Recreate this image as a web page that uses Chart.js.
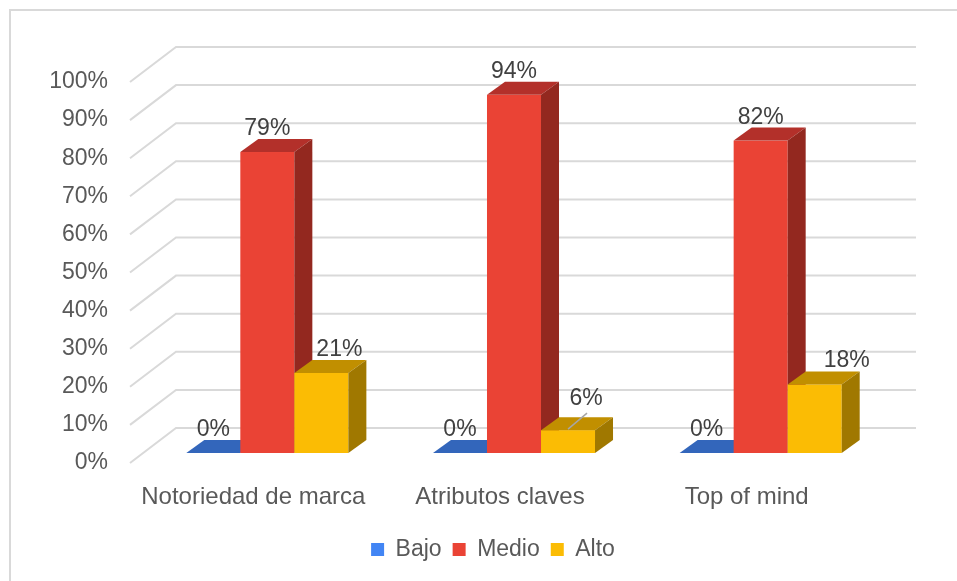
<!DOCTYPE html>
<html>
<head>
<meta charset="utf-8">
<script src="https://cdn.jsdelivr.net/npm/chart.js@4.4.1/dist/chart.umd.min.js"></script>
<style>
  html, body { margin: 0; padding: 0; background: #fff; overflow: hidden; }
  #wrap { position: relative; width: 957px; height: 581px; }
  #frame { position: absolute; left: 9px; top: 9px; width: 1200px; height: 900px;
           border: 2px solid #d9d9d9; box-sizing: border-box; }
  canvas { position: absolute; left: 0; top: 0; }
</style>
</head>
<body>
<div id="wrap"><div id="frame"></div><canvas id="chart" width="957" height="581"></canvas></div>
<script>
const categories = ['Notoriedad de marca', 'Atributos claves', 'Top of mind'];
const bajo = [0, 0, 0];
const medio = [79, 94, 82];
const alto = [21, 6, 18];
const yTicks = [0, 10, 20, 30, 40, 50, 60, 70, 80, 90, 100];

const FONT = '"Liberation Sans", Arial, sans-serif';

function poly(ctx, pts, color) {
  ctx.beginPath();
  ctx.moveTo(pts[0][0], pts[0][1]);
  for (let k = 1; k < pts.length; k++) ctx.lineTo(pts[k][0], pts[k][1]);
  ctx.closePath();
  ctx.fillStyle = color;
  ctx.fill();
}

// fake 3D: back wall grid, boxes drawn category by category, then labels
const depth3d = {
  id: 'depth3d',
  afterLayout(chart, args, opts) {
    // legend sits centred under the whole frame, not the padded area
    chart.legend.left += opts.legendShift;
    chart.legend.right += opts.legendShift;
  },
  beforeDatasetsDraw(chart, args, opts) {
    const { ctx, chartArea: a, scales: { y } } = chart;
    const [wx, wy] = opts.wall, [fx, fy] = opts.front, [dx, dy] = opts.box;
    ctx.save();
    ctx.strokeStyle = '#d9d9d9';
    ctx.lineWidth = 2;
    yTicks.forEach(t => {
      const py = y.getPixelForValue(t);
      ctx.beginPath();
      ctx.moveTo(a.left, py);
      ctx.lineTo(a.left + wx, py + wy);
      ctx.lineTo(a.right + wx, py + wy);
      ctx.stroke();
    });
    for (let j = 0; j < categories.length; j++) {
      chart.data.datasets.forEach((ds, i) => {
        const bar = chart.getDatasetMeta(i).data[j];
        const l = bar.x - bar.width / 2 + fx, r = bar.x + bar.width / 2 + fx;
        const t = bar.y + fy, b = bar.base + fy;
        ctx.fillStyle = ds.backgroundColor;
        ctx.fillRect(l, t, r - l, b - t);
        poly(ctx, [[l, t], [r, t], [r + dx, t + dy], [l + dx, t + dy]], ds.topColor);
        poly(ctx, [[r, t], [r + dx, t + dy], [r + dx, b + dy], [r, b]], ds.sideColor);
      });
    }
    ctx.restore();
    return false;
  },
  afterDraw(chart, args, opts) {
    const { ctx } = chart;
    const [fx, fy] = opts.front, [dx, dy] = opts.box;
    ctx.save();
    ctx.font = '23px ' + FONT;
    ctx.textAlign = 'center';
    ctx.textBaseline = 'alphabetic';
    chart.data.datasets.forEach((ds, i) => {
      chart.getDatasetMeta(i).data.forEach((bar, j) => {
        const sh = opts.shift[i + '-' + j] || [0, 0];
        const bx = bar.x + fx;
        const lx = bx + sh[0], ly = bar.y + fy + dy - 4 + sh[1];
        if (sh[2]) {
          ctx.strokeStyle = '#a6a6a6';
          ctx.lineWidth = 1.5;
          ctx.beginPath();
          ctx.moveTo(bx, bar.y + fy - 1);
          ctx.lineTo(lx + 1, ly + 8);
          ctx.stroke();
        }
        ctx.fillStyle = '#404040';
        ctx.fillText(ds.data[j] + '%', lx, ly);
      });
    });
    ctx.restore();
  }
};

new Chart(document.getElementById('chart'), {
  type: 'bar',
  data: {
    labels: categories,
    datasets: [
      { label: 'Bajo', data: bajo, backgroundColor: '#4285f4', topColor: '#3366bb', sideColor: '#2a55a0' },
      { label: 'Medio', data: medio, backgroundColor: '#ea4335', topColor: '#b3302a', sideColor: '#93281f' },
      { label: 'Alto', data: alto, backgroundColor: '#fbbc04', topColor: '#c18f00', sideColor: '#a07800' }
    ]
  },
  options: {
    responsive: false,
    animation: false,
    categoryPercentage: 0.657,
    barPercentage: 1,
    layout: { padding: { left: 10, right: 87, top: 82, bottom: 10 } },
    scales: {
      x: {
        grid: { display: false, drawTicks: false },
        border: { display: false },
        ticks: { color: '#595959', font: { family: FONT, size: 24 }, padding: 20, maxRotation: 0 },
        afterFit: s => { s.height = 64; }
      },
      y: {
        min: 0, max: 100,
        grid: { display: false, drawTicks: false },
        border: { display: false },
        ticks: { stepSize: 10, color: '#595959', font: { family: FONT, size: 23 }, padding: 22,
                 callback: v => v + '%' },
        afterFit: s => { s.width = 120; }
      }
    },
    plugins: {
      legend: {
        position: 'bottom',
        labels: { boxWidth: 13, boxHeight: 13, padding: 11, color: '#595959',
                  font: { family: FONT, size: 23 } }
      },
      tooltip: { enabled: false },
      depth3d: {
        wall: [46, -35],
        front: [14, -10],
        box: [18, -13],
        legendShift: 53,
        shift: { '2-0': [18, 0], '2-1': [18, -8, true], '2-2': [32, 0] }
      }
    }
  },
  plugins: [depth3d]
});
</script>
</body>
</html>
